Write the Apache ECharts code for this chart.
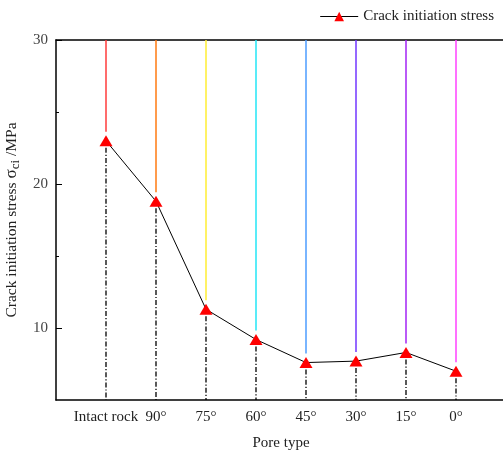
<!DOCTYPE html>
<html><head><meta charset="utf-8">
<script src="https://cdn.jsdelivr.net/npm/echarts@6/dist/echarts.min.js"></script>
<style>html,body{margin:0;padding:0;background:#fff}#c{width:503px;height:457px}</style>
</head><body><div id="c"></div>
<script>
const categories = ['Intact rock', '90°', '75°', '60°', '45°', '30°', '15°', '0°'];
const crackStress = [23.0, 18.8, 11.3, 9.2, 7.6, 7.7, 8.3, 7.0];
const lineColors = ['#ff3b3b', '#ff7a10', '#ffee33', '#22e6f6', '#4d9dff', '#7236ff', '#a323f5', '#ff40ff'];
const yTickLabels = [10, 20, 30];
const yMinorTicks = [15, 25];
const yMin = 5, yMax = 30;

const FONT = 'Liberation Serif';
const pts = crackStress.map((v, i) => [i + 1, v]);

const chart = echarts.init(document.getElementById('c'));
chart.setOption({
  animation: false,
  textStyle: { fontFamily: FONT },
  grid: { left: 56, top: 40, width: 450, height: 360, containLabel: false, outerBoundsMode: 'none' },
  legend: {
    right: 4, top: 4, itemWidth: 38, itemHeight: 12, itemGap: 6,
    textStyle: { fontFamily: FONT, fontSize: 15, color: '#222' },
    lineStyle: { width: 1 },
    data: [{ name: 'Crack initiation stress' }]
  },
  xAxis: [{
    type: 'value', min: 0, max: 9, interval: 1,
    name: 'Pore type', nameLocation: 'middle', nameGap: 36,
    nameTextStyle: { fontFamily: FONT, fontSize: 15, color: '#222' },
    axisLine: { lineStyle: { color: '#000', width: 1.5 } },
    axisTick: { show: false },
    splitLine: { show: false },
    axisLabel: {
      fontFamily: FONT, fontSize: 15, color: '#222', margin: 10,
      formatter: v => (v >= 1 && v <= categories.length) ? categories[v - 1] : ''
    }
  }, {
    type: 'value', min: 0, max: 9, position: 'top',
    axisLine: { lineStyle: { color: '#000', width: 1.5 } },
    axisTick: { show: false }, axisLabel: { show: false }, splitLine: { show: false }
  }],
  yAxis: [{
    type: 'value', min: yMin, max: yMax,
    name: 'Crack initiation stress {i|σ}{s|ci} /MPa',
    nameLocation: 'middle', nameGap: 32,
    nameTextStyle: {
      fontFamily: FONT, fontSize: 15.5, color: '#222',
      rich: {
        i: { fontFamily: FONT, fontSize: 17, color: '#222' },
        s: { fontFamily: FONT, fontSize: 13, color: '#222', verticalAlign: 'bottom', padding: [8, 0, 0, 0] }
      }
    },
    axisLine: { show: true, lineStyle: { color: '#000', width: 1.5 } },
    axisTick: { show: true, inside: true, length: 6, customValues: yTickLabels, lineStyle: { color: '#000' } },
    axisLabel: { fontFamily: FONT, fontSize: 15, color: '#444', margin: 8, customValues: yTickLabels },
    splitLine: { show: false }
  }, {
    type: 'value', min: yMin, max: yMax, position: 'left',
    axisLine: { show: false },
    axisTick: { show: true, inside: true, length: 3, customValues: yMinorTicks, lineStyle: { color: '#000' } },
    axisLabel: { show: false },
    splitLine: { show: false }
  }],
  series: [
    {
      type: 'custom', name: 'colored', silent: true, z: 1,
      data: pts,
      renderItem: (params, api) => {
        const x = api.value(0), v = api.value(1);
        const top = api.coord([x, yMax]);
        const bot = api.coord([x, v]);
        return {
          type: 'line',
          shape: { x1: top[0], y1: top[1], x2: bot[0], y2: bot[1] - 9 },
          style: { stroke: lineColors[params.dataIndex], lineWidth: 1.5 }
        };
      }
    },
    {
      type: 'custom', name: 'dashdot', silent: true, z: 1,
      data: pts,
      renderItem: (params, api) => {
        const x = api.value(0), v = api.value(1);
        const a = api.coord([x, v]);
        const b = api.coord([x, yMin]);
        return {
          type: 'line',
          shape: { x1: a[0], y1: a[1] + 7, x2: b[0], y2: b[1] },
          style: { stroke: '#000', lineWidth: 1.3, lineDash: [5, 2, 1.2, 2] }
        };
      }
    },
    {
      type: 'line', name: 'Crack initiation stress', z: 3,
      data: pts,
      symbol: 'triangle', symbolSize: [13, 11],
      itemStyle: { color: '#ff0000' },
      lineStyle: { color: '#000', width: 1 }
    }
  ]
});
</script></body></html>
